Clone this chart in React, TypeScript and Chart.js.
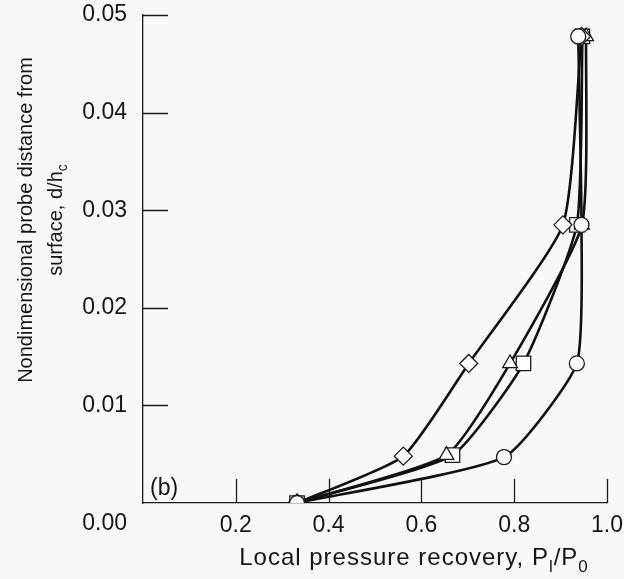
import React, { useEffect, useRef } from 'react';
import { Chart, registerables } from 'chart.js';

Chart.register(...registerables);

// ---- data ----
const xTickValues = [0.2, 0.4, 0.6, 0.8, 1.0];
const yTickValues = [0.01, 0.02, 0.03, 0.04, 0.05];

const circleX = [0.332, 0.778, 0.935, 0.945, 0.938];
const circleY = [0.0, 0.0047, 0.0143, 0.0285, 0.0478];

const diamondX = [0.332, 0.561, 0.702, 0.905, 0.945];
const diamondY = [0.0, 0.0048, 0.0143, 0.0285, 0.0478];

const triangleX = [0.332, 0.654, 0.791, 0.946, 0.955];
const triangleY = [0.0, 0.0049, 0.0143, 0.0285, 0.0478];

const squareX = [0.332, 0.667, 0.82, 0.935, 0.947];
const squareY = [0.0, 0.0049, 0.0143, 0.0285, 0.0478];

const xTitleParts = [
  { text: 'Local pressure recovery, P' },
  { text: 'l', sub: true },
  { text: '/P' },
  { text: '0', sub: true },
];
const yTitleLine1 = [{ text: 'Nondimensional probe distance from' }];
const yTitleLine2 = [{ text: 'surface, d/h' }, { text: 'c', sub: true }];
const panelLabel = '(b)';
const originLabel = '0.00';

const FONT = '"Liberation Sans", Arial, Helvetica, sans-serif';
const FS = 23;
const TEXT = '#151515';

type Part = { text: string; sub?: boolean };

function drawRich(ctx: any, parts: Part[], cx: number, cy: number, fs: number, spacing: number) {
  const subFs = Math.round(fs * 0.72);
  ctx.letterSpacing = `${spacing}px`;
  let total = 0;
  const widths: number[] = [];
  for (const p of parts) {
    ctx.font = `${p.sub ? subFs : fs}px ${FONT}`;
    const w = ctx.measureText(p.text).width;
    widths.push(w);
    total += w;
  }
  let x = cx - total / 2;
  ctx.textAlign = 'left';
  ctx.textBaseline = 'middle';
  parts.forEach((p, i) => {
    ctx.font = `${p.sub ? subFs : fs}px ${FONT}`;
    ctx.fillText(p.text, x, p.sub ? cy + fs * 0.38 : cy);
    x += widths[i];
  });
  ctx.letterSpacing = '0px';
}

const annotPlugin = {
  id: 'annot',
  beforeDatasetsDraw(chart: any) {
    const ctx = chart.ctx;
    const xs = chart.scales.x;
    const ys = chart.scales.y;
    ctx.save();
    ctx.strokeStyle = '#1a1a1a';
    ctx.lineWidth = 1.3;
    ctx.beginPath();
    for (const v of xTickValues) {
      const px = Math.round(xs.getPixelForValue(v)) + 0.5;
      ctx.moveTo(px, ys.bottom);
      ctx.lineTo(px, ys.bottom - 24);
    }
    for (const v of yTickValues) {
      const py = Math.round(ys.getPixelForValue(v)) + 0.5;
      ctx.moveTo(xs.left, py);
      ctx.lineTo(xs.left + 25, py);
    }
    ctx.stroke();
    ctx.restore();
  },
  afterDraw(chart: any) {
    const ctx = chart.ctx;
    const xs = chart.scales.x;
    const ys = chart.scales.y;
    ctx.save();
    ctx.fillStyle = TEXT;
    // x title
    drawRich(ctx, xTitleParts, 414, 558, 24, 1);
    // y title (two rotated lines)
    const cy = 220;
    ctx.save();
    ctx.translate(26, cy);
    ctx.rotate(-Math.PI / 2);
    drawRich(ctx, yTitleLine1, 0, 0, 20, 0);
    ctx.restore();
    ctx.save();
    ctx.translate(56, cy);
    ctx.rotate(-Math.PI / 2);
    drawRich(ctx, yTitleLine2, 0, 0, 20, 0);
    ctx.restore();
    // panel label
    ctx.font = `${FS}px ${FONT}`;
    ctx.textAlign = 'left';
    ctx.textBaseline = 'middle';
    ctx.fillText(panelLabel, xs.left + 7, ys.bottom - 14);
    // origin label
    ctx.textAlign = 'right';
    ctx.fillText(originLabel, 127, 524);
    ctx.restore();
  },
};

function toPoints(xs: number[], ys: number[]) {
  return xs.map((x, i) => ({ x, y: ys[i] }));
}

const series = [
  { x: circleX, y: circleY, style: 'circle', r: 7.5 },
  { x: diamondX, y: diamondY, style: 'rectRot', r: 9 },
  { x: triangleX, y: triangleY, style: 'triangle', r: 8.5 },
  { x: squareX, y: squareY, style: 'rect', r: 10.2 },
];

function zeroPad(scale: any) {
  scale.paddingTop = 0;
  scale.paddingBottom = 0;
  scale.paddingLeft = 0;
  scale.paddingRight = 0;
}

export default function App() {
  const ref = useRef<HTMLCanvasElement | null>(null);
  useEffect(() => {
    if (!ref.current) return;
    const markerSets = series.map((s) => ({
      data: toPoints(s.x, s.y),
      showLine: false,
      pointStyle: s.style,
      pointRadius: s.r,
      pointBackgroundColor: '#ffffff',
      pointBorderColor: '#1a1a1a',
      pointBorderWidth: 1.3,
    }));
    const lineSets = series.map((s) => ({
      data: toPoints(s.x, s.y),
      showLine: true,
      pointRadius: 0,
      borderColor: '#111111',
      borderWidth: 2.6,
      tension: 0.17,
      fill: false,
    }));
    const chart = new Chart(ref.current, {
      type: 'scatter',
      data: { datasets: [...markerSets, ...lineSets] as any },
      options: {
        animation: false,
        responsive: false,
        layout: { padding: { top: 15, right: 17, left: 0, bottom: 0 } },
        plugins: { legend: { display: false }, tooltip: { enabled: false } },
        scales: {
          x: {
            type: 'linear',
            position: 'bottom',
            min: 0,
            max: 1,
            afterBuildTicks: (scale: any) => {
              scale.ticks = [0, ...xTickValues].map((v) => ({ value: v }));
            },
            afterFit: (scale: any) => {
              scale.height = 76;
              zeroPad(scale);
            },
            ticks: {
              padding: 1,
              color: TEXT,
              font: { family: FONT, size: FS },
              maxRotation: 0,
              autoSkip: false,
              callback: (v: any) => (Number(v) === 0 ? '' : Number(v).toFixed(1)),
            },
            grid: { display: false },
            border: { display: true, color: '#1a1a1a', width: 1.3 },
          },
          y: {
            type: 'linear',
            min: 0,
            max: 0.05,
            afterBuildTicks: (scale: any) => {
              scale.ticks = [0, ...yTickValues].map((v) => ({ value: v }));
            },
            afterFit: (scale: any) => {
              scale.width = 143;
              zeroPad(scale);
            },
            ticks: {
              padding: 8,
              color: TEXT,
              font: { family: FONT, size: FS },
              autoSkip: false,
              callback: (v: any) => (Number(v) === 0 ? '' : Number(v).toFixed(2)),
            },
            grid: { display: false },
            border: { display: true, color: '#1a1a1a', width: 1.3 },
          },
        },
      },
      plugins: [annotPlugin],
    });
    return () => chart.destroy();
  }, []);
  return (
    <div style={{ position: 'absolute', left: 0, top: 0, width: 624, height: 579, background: '#f7f8f7' }}>
      <canvas ref={ref} width={624} height={579} style={{ display: 'block' }} />
    </div>
  );
}
